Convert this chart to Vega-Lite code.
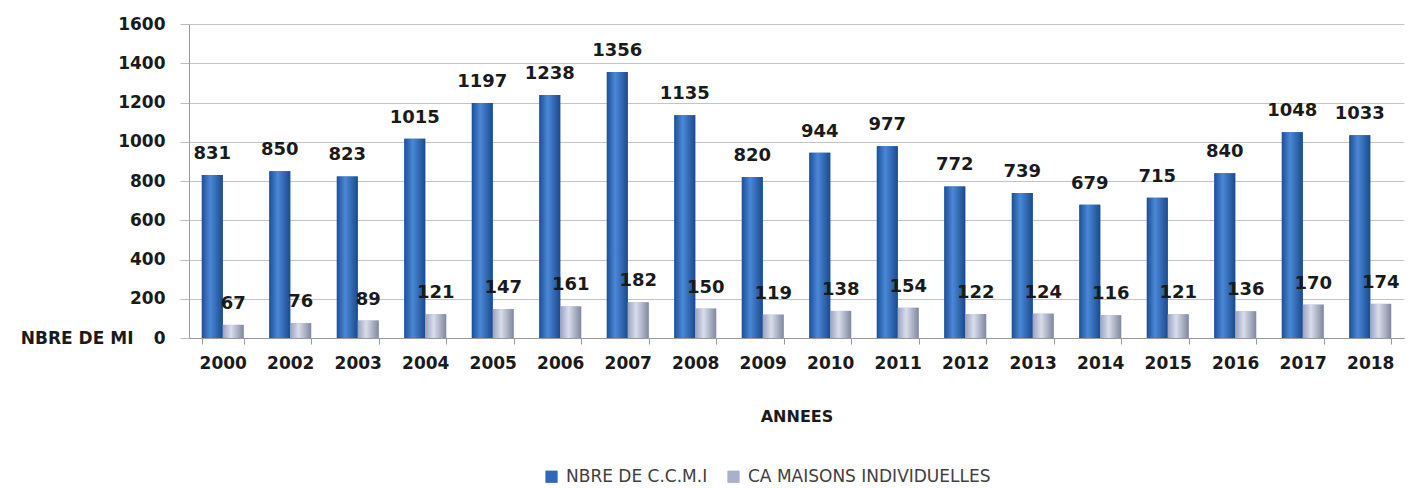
{
  "$schema": "https://vega.github.io/schema/vega-lite/v6.json",
  "width": 1215,
  "height": 314,
  "autosize": "none",
  "padding": {"left": 189, "top": 24, "right": 4, "bottom": 150},
  "background": "white",
  "config": {
    "view": {"stroke": null},
    "font": "DejaVu Sans"
  },
  "data": {
    "values": [
      {"year": "2000", "series": "NBRE DE C.C.M.I", "value": 831},
      {"year": "2000", "series": "CA MAISONS INDIVIDUELLES", "value": 67},
      {"year": "2002", "series": "NBRE DE C.C.M.I", "value": 850},
      {"year": "2002", "series": "CA MAISONS INDIVIDUELLES", "value": 76},
      {"year": "2003", "series": "NBRE DE C.C.M.I", "value": 823},
      {"year": "2003", "series": "CA MAISONS INDIVIDUELLES", "value": 89},
      {"year": "2004", "series": "NBRE DE C.C.M.I", "value": 1015},
      {"year": "2004", "series": "CA MAISONS INDIVIDUELLES", "value": 121},
      {"year": "2005", "series": "NBRE DE C.C.M.I", "value": 1197},
      {"year": "2005", "series": "CA MAISONS INDIVIDUELLES", "value": 147},
      {"year": "2006", "series": "NBRE DE C.C.M.I", "value": 1238},
      {"year": "2006", "series": "CA MAISONS INDIVIDUELLES", "value": 161},
      {"year": "2007", "series": "NBRE DE C.C.M.I", "value": 1356},
      {"year": "2007", "series": "CA MAISONS INDIVIDUELLES", "value": 182},
      {"year": "2008", "series": "NBRE DE C.C.M.I", "value": 1135},
      {"year": "2008", "series": "CA MAISONS INDIVIDUELLES", "value": 150},
      {"year": "2009", "series": "NBRE DE C.C.M.I", "value": 820},
      {"year": "2009", "series": "CA MAISONS INDIVIDUELLES", "value": 119},
      {"year": "2010", "series": "NBRE DE C.C.M.I", "value": 944},
      {"year": "2010", "series": "CA MAISONS INDIVIDUELLES", "value": 138},
      {"year": "2011", "series": "NBRE DE C.C.M.I", "value": 977},
      {"year": "2011", "series": "CA MAISONS INDIVIDUELLES", "value": 154},
      {"year": "2012", "series": "NBRE DE C.C.M.I", "value": 772},
      {"year": "2012", "series": "CA MAISONS INDIVIDUELLES", "value": 122},
      {"year": "2013", "series": "NBRE DE C.C.M.I", "value": 739},
      {"year": "2013", "series": "CA MAISONS INDIVIDUELLES", "value": 124},
      {"year": "2014", "series": "NBRE DE C.C.M.I", "value": 679},
      {"year": "2014", "series": "CA MAISONS INDIVIDUELLES", "value": 116},
      {"year": "2015", "series": "NBRE DE C.C.M.I", "value": 715},
      {"year": "2015", "series": "CA MAISONS INDIVIDUELLES", "value": 121},
      {"year": "2016", "series": "NBRE DE C.C.M.I", "value": 840},
      {"year": "2016", "series": "CA MAISONS INDIVIDUELLES", "value": 136},
      {"year": "2017", "series": "NBRE DE C.C.M.I", "value": 1048},
      {"year": "2017", "series": "CA MAISONS INDIVIDUELLES", "value": 170},
      {"year": "2018", "series": "NBRE DE C.C.M.I", "value": 1033},
      {"year": "2018", "series": "CA MAISONS INDIVIDUELLES", "value": 174}
    ]
  },
  "encoding": {
    "x": {
      "field": "year",
      "type": "nominal",
      "sort": null,
      "title": "ANNEES",
      "scale": {"paddingInner": 0.38, "paddingOuter": 0.19},
      "axis": {
        "labelAngle": 0,
        "labelFont": "DejaVu Sans",
        "labelFontWeight": "bold",
        "labelFontSize": 17,
        "labelColor": "#1a1a1a",
        "labelPadding": 11,
        "tickBand": "extent",
        "tickSize": 6,
        "tickColor": "#9a9a9a",
        "domainColor": "#9a9a9a",
        "grid": false,
        "titleFont": "DejaVu Sans",
        "titleFontWeight": "bold",
        "titleFontSize": 16,
        "titleColor": "#1a1a1a",
        "titleBaseline": "middle",
        "titleY": 78
      }
    },
    "xOffset": {
      "field": "series",
      "type": "nominal",
      "sort": ["NBRE DE C.C.M.I", "CA MAISONS INDIVIDUELLES"],
      "scale": {"paddingInner": 0, "paddingOuter": 0}
    },
    "y": {
      "field": "value",
      "type": "quantitative",
      "scale": {"domain": [0, 1600], "nice": false},
      "title": "NBRE DE MI",
      "axis": {
        "values": [0, 200, 400, 600, 800, 1000, 1200, 1400, 1600],
        "format": "d",
        "labelFont": "DejaVu Sans",
        "labelFontWeight": "bold",
        "labelFontSize": 17,
        "labelColor": "#1a1a1a",
        "labelPadding": 15,
        "tickSize": 9,
        "tickColor": "#bdbdbd",
        "domainColor": "#9a9a9a",
        "gridColor": "#c4c4c4",
        "titleFont": "DejaVu Sans",
        "titleFontWeight": "bold",
        "titleFontSize": 17,
        "titleColor": "#1a1a1a",
        "titleAngle": 0,
        "titleAlign": "right",
        "titleBaseline": "middle",
        "titleX": -56,
        "titleY": 314
      }
    }
  },
  "layer": [
    {
      "mark": {"type": "bar"},
      "encoding": {
        "color": {
          "field": "series",
          "type": "nominal",
          "scale": {
            "domain": ["NBRE DE C.C.M.I", "CA MAISONS INDIVIDUELLES"],
            "range": ["#2f68b8", "#a9b1ca"]
          },
          "legend": {
            "title": null,
            "orient": "none",
            "direction": "horizontal",
            "legendX": 354,
            "legendY": 444,
            "symbolType": "square",
            "symbolSize": 150,
            "symbolStrokeWidth": 0,
            "labelFont": "DejaVu Sans",
            "labelFontSize": 17,
            "labelColor": "#404040",
            "labelOffset": 6,
            "columnPadding": 17,
            "labelLimit": 400
          }
        }
      }
    },
    {
      "mark": {"type": "bar"},
      "encoding": {
        "fill": {
          "condition": {
            "test": "datum.series === 'NBRE DE C.C.M.I'",
            "value": {
              "gradient": "linear",
              "x1": 0, "y1": 0, "x2": 1, "y2": 0,
              "stops": [
                {"offset": 0, "color": "#1d4f98"},
                {"offset": 0.4, "color": "#4a88d6"},
                {"offset": 1, "color": "#1b4a8e"}
              ]
            }
          },
          "value": {
            "gradient": "linear",
            "x1": 0, "y1": 0, "x2": 1, "y2": 0,
            "stops": [
              {"offset": 0, "color": "#9aa2bf"},
              {"offset": 0.4, "color": "#d9ddeb"},
              {"offset": 1, "color": "#80889f"}
            ]
          }
        }
      }
    },
    {
      "mark": {
        "type": "text",
        "baseline": "middle",
        "align": "center",
        "dy": -21,
        "font": "DejaVu Sans",
        "fontWeight": "bold",
        "fontSize": 18,
        "color": "#1a1a1a"
      },
      "encoding": {
        "text": {"field": "value", "type": "quantitative"}
      }
    }
  ]
}
